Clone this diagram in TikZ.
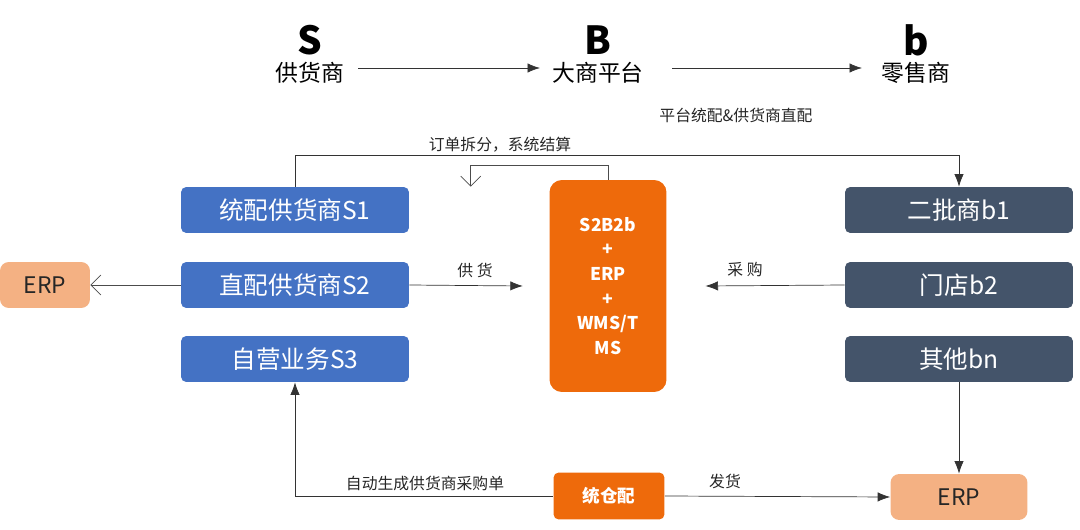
\documentclass[tikz,border=0pt]{standalone}
\usepackage{fontspec}
\setmainfont{Noto Sans CJK SC}
\usetikzlibrary{arrows.meta}
\definecolor{supblue}{HTML}{4472C4}
\definecolor{shopgray}{HTML}{44546A}
\definecolor{hub}{HTML}{EE6A0B}
\definecolor{erpc}{HTML}{F4B183}
\tikzset{
  sbox/.style={draw=none,fill=supblue,text=white,rounded corners=3pt,minimum width=4.56cm,minimum height=0.92cm,font=\fontsize{14}{16}\selectfont},
  bbox/.style={sbox,fill=shopgray},
  erpbox/.style={draw=none,fill=erpc,text=black!85,rounded corners=5pt,minimum height=0.92cm,font=\fontsize{13}{15}\selectfont},
  hubbox/.style={draw=none,fill=hub,text=white,rounded corners=7pt,font=\bfseries\fontsize{10}{14}\selectfont},
  lbl/.style={font=\fontsize{9}{11}\selectfont,text=black!85},
  arr/.style={-{Latex[length=2.5mm]},black!80},
  oarr/.style={-{Straight Barb[length=2mm]},black!70}
}
\begin{document}
\begin{tikzpicture}[x=0.02cm,y=-0.02cm]
\useasboundingbox (0,0) rectangle (1080,530);
% top row
\node[font=\bfseries\fontsize{22}{24}\selectfont] (sl) at (310,40) {S};
\node[font=\fontsize{13}{15}\selectfont] (s) at (310,73) {供货商};
\node[font=\bfseries\fontsize{22}{24}\selectfont] (bl) at (598,40) {B};
\node[font=\fontsize{13}{15}\selectfont] (B) at (598,73) {大商平台};
\node[font=\bfseries\fontsize{22}{24}\selectfont] (ll) at (916,40) {b};
\node[font=\fontsize{13}{15}\selectfont] (b) at (916,73) {零售商};
\draw[arr] (s.east)++(8,-5) coordinate (s1) -- (540,68) coordinate (s2);
\draw[arr] (672,68) coordinate (b1) -- (862,68) coordinate (b2);
\node[lbl] (mode) at (736,115) {平台统配\&供货商直配};
% boxes
\node[sbox] (S1) at (295,210) {统配供货商S1};
\node[sbox] (S2) at (295,285) {直配供货商S2};
\node[sbox] (S3) at (295,359) {自营业务S3};
\node[bbox] (r1) at (959,210) {二批商b1};
\node[bbox] (r2) at (959,285) {门店b2};
\node[bbox] (r3) at (959,359) {其他bn};
\node[hubbox,minimum width=2.34cm,minimum height=4.24cm,align=center] (hub) at (608,286) {S2B2b\\+\\ERP\\+\\WMS/T\\MS};
\node[erpbox,minimum width=1.8cm] (erpL) at (45,285) {ERP};
\node[erpbox,minimum width=2.74cm] (erpR) at (959,497) {ERP};
\node[hubbox,minimum width=2.22cm,minimum height=0.94cm,rounded corners=3pt] (wh) at (609,496) {统仓配};
% connectors
\draw[arr] (S1.north) -- ++(0,-31) -| (r1.north);
\draw[oarr] (hub.north) -- ++(0,-14) -| ([xshift=100]S1.north);
\node[lbl] (split) at (500,145) {订单拆分，系统结算};
\draw[oarr] (S2.west) -- (erpL.east);
\draw[arr] (S2.east) -- ([xshift=-15]hub.west);
\node[lbl] (supply) at (475,270) {供 货};
\draw[arr] (r2.west) -- ([xshift=22]hub.east);
\node[lbl] (buy) at (745,270) {采 购};
\draw[arr] (r3.south) -- (erpR.north);
\draw[arr] (wh.west) -| (S3.south);
\node[lbl] (auto) at (425,484) {自动生成供货商采购单};
\draw[arr] (wh.east) -- (erpR.west);
\node[lbl] (ship) at (725,481) {发货};
\end{tikzpicture}
\end{document}
